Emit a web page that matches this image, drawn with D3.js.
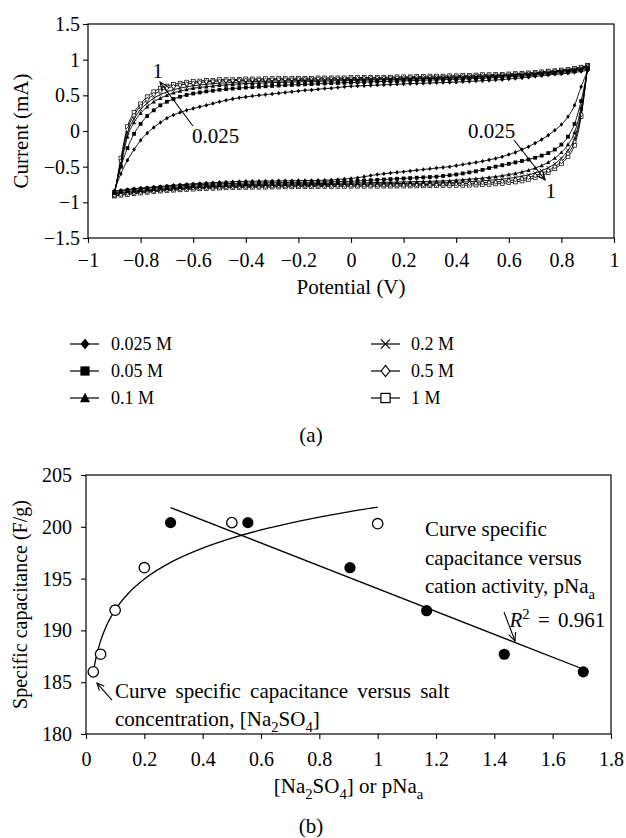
<!DOCTYPE html>
<html><head><meta charset="utf-8">
<script src="https://cdn.jsdelivr.net/npm/d3@7/dist/d3.min.js"></script>
<style>
html,body{margin:0;padding:0;background:#fff;}
svg{display:block;}
text{font-family:"Liberation Serif","Times New Roman",serif;fill:#000;}
</style></head><body>
<svg id="chart" width="626" height="838"></svg>
<script>
// ---------------- DATA: panel (a) cyclic voltammograms ----------------
const potential = [-0.9,-0.875,-0.85,-0.825,-0.8,-0.775,-0.75,-0.725,-0.7,-0.675,-0.65,-0.625,-0.6,-0.575,-0.55,-0.525,-0.5,-0.475,-0.45,-0.425,-0.4,-0.375,-0.35,-0.325,-0.3,-0.275,-0.25,-0.225,-0.2,-0.175,-0.15,-0.125,-0.1,-0.075,-0.05,-0.025,0,0.025,0.05,0.075,0.1,0.125,0.15,0.175,0.2,0.225,0.25,0.275,0.3,0.325,0.35,0.375,0.4,0.425,0.45,0.475,0.5,0.525,0.55,0.575,0.6,0.625,0.65,0.675,0.7,0.725,0.75,0.775,0.8,0.825,0.85,0.875,0.9];
const seriesLabels = ["0.025 M","0.05 M","0.1 M","0.2 M","0.5 M","1 M"];
// forward (anodic) sweep currents, mA, at each potential
const fwd_0025 = [-0.84,-0.60,-0.41,-0.26,-0.13,-0.03,0.05,0.12,0.18,0.225,0.26,0.29,0.315,0.34,0.36,0.385,0.41,0.43,0.45,0.465,0.478,
 0.49,0.50,0.51,0.52,0.53,0.54,0.55,0.56,0.57,0.575,0.585,0.595,0.60,0.61,0.62,0.627,
 0.632,0.636,0.64,0.644,0.648,0.652,0.656,0.66,0.664,0.667,0.67,0.673,0.676,0.679,0.682,0.685,0.69,0.695,0.70,0.705,0.71,0.715,0.72,
 0.73,0.735,0.745,0.755,0.765,0.775,0.785,0.795,0.80,0.81,0.82,0.835,0.85];
const fwd_005 = [-0.86,-0.50,-0.24,-0.04,0.10,0.21,0.29,0.36,0.41,0.45,0.48,0.505,0.525,0.54,0.555,0.565,0.578,0.587,0.595,0.602,0.609,
 0.615,0.62,0.627,0.632,0.637,0.642,0.646,0.65,0.654,0.658,0.662,0.666,0.67,0.673,0.676,0.68,
 0.683,0.686,0.689,0.692,0.695,0.698,0.70,0.703,0.706,0.709,0.712,0.715,0.717,0.72,0.722,0.725,0.728,0.732,0.736,0.74,0.745,0.75,0.755,
 0.76,0.765,0.77,0.775,0.785,0.795,0.80,0.81,0.82,0.83,0.84,0.855,0.87];
const fwd_01 = [-0.87,-0.48,-0.08,0.12,0.25,0.34,0.41,0.46,0.50,0.535,0.56,0.58,0.60,0.61,0.62,0.63,0.64,0.645,0.655,0.66,0.665,
 0.67,0.67,0.675,0.68,0.68,0.685,0.685,0.69,0.69,0.695,0.695,0.70,0.70,0.705,0.705,0.71,
 0.71,0.71,0.715,0.715,0.72,0.72,0.72,0.725,0.725,0.73,0.73,0.735,0.735,0.74,0.74,0.745,0.745,0.75,0.755,0.755,0.76,0.765,0.77,
 0.775,0.78,0.785,0.79,0.80,0.81,0.815,0.825,0.835,0.845,0.855,0.87,0.89];
const fwd_02 = [-0.88,-0.45,-0.03,0.17,0.30,0.39,0.46,0.51,0.55,0.58,0.60,0.62,0.635,0.645,0.655,0.665,0.67,0.675,0.68,0.685,0.69,
 0.69,0.695,0.695,0.70,0.70,0.70,0.705,0.705,0.71,0.71,0.71,0.715,0.715,0.715,0.72,0.72,
 0.72,0.725,0.725,0.725,0.73,0.73,0.73,0.735,0.735,0.735,0.74,0.74,0.745,0.745,0.75,0.75,0.755,0.755,0.76,0.765,0.765,0.77,0.775,
 0.78,0.785,0.79,0.80,0.805,0.815,0.82,0.83,0.84,0.85,0.86,0.88,0.90];
const fwd_05 = [-0.90,-0.42,0.02,0.22,0.35,0.44,0.51,0.56,0.60,0.625,0.645,0.66,0.67,0.68,0.69,0.695,0.70,0.705,0.705,0.71,0.71,
 0.715,0.715,0.715,0.72,0.72,0.72,0.72,0.725,0.725,0.725,0.73,0.73,0.73,0.73,0.735,0.735,
 0.735,0.74,0.74,0.74,0.74,0.745,0.745,0.745,0.75,0.75,0.75,0.755,0.755,0.755,0.76,0.76,0.765,0.765,0.77,0.775,0.775,0.78,0.785,
 0.79,0.795,0.80,0.805,0.815,0.82,0.83,0.84,0.85,0.86,0.87,0.89,0.91];
const fwd_1 = [-0.91,-0.38,0.06,0.26,0.38,0.48,0.55,0.60,0.63,0.655,0.67,0.685,0.695,0.70,0.71,0.71,0.72,0.72,0.72,0.725,0.73,
 0.73,0.73,0.735,0.735,0.74,0.74,0.74,0.74,0.74,0.74,0.745,0.745,0.745,0.745,0.745,0.75,
 0.75,0.75,0.75,0.75,0.755,0.755,0.76,0.76,0.76,0.765,0.765,0.77,0.77,0.77,0.775,0.775,0.78,0.78,0.785,0.79,0.79,0.795,0.795,
 0.80,0.805,0.81,0.815,0.82,0.83,0.84,0.845,0.855,0.865,0.88,0.895,0.92];
// reverse (cathodic) sweep currents, mA, listed at the same potentials
const rev_0025 = [-0.84,-0.83,-0.82,-0.81,-0.80,-0.792,-0.785,-0.777,-0.77,-0.762,-0.755,-0.747,-0.74,-0.735,-0.73,-0.725,-0.72,-0.716,-0.712,-0.708,-0.705,
 -0.704,-0.703,-0.702,-0.70,-0.699,-0.698,-0.697,-0.695,-0.694,-0.693,-0.692,-0.69,-0.687,-0.68,-0.673,-0.665,
 -0.655,-0.64,-0.625,-0.61,-0.60,-0.59,-0.58,-0.57,-0.56,-0.55,-0.54,-0.53,-0.52,-0.51,-0.50,-0.485,-0.47,-0.455,-0.44,-0.425,-0.405,-0.385,-0.36,
 -0.33,-0.30,-0.26,-0.22,-0.17,-0.12,-0.06,0.01,0.09,0.20,0.36,0.62,0.85];
const rev_005 = [-0.86,-0.845,-0.83,-0.82,-0.81,-0.802,-0.795,-0.787,-0.78,-0.773,-0.767,-0.761,-0.755,-0.751,-0.747,-0.743,-0.74,-0.737,-0.735,-0.732,-0.73,
 -0.729,-0.728,-0.727,-0.725,-0.724,-0.723,-0.721,-0.72,-0.719,-0.718,-0.716,-0.715,-0.712,-0.71,-0.707,-0.705,
 -0.70,-0.695,-0.69,-0.685,-0.68,-0.675,-0.67,-0.665,-0.66,-0.655,-0.65,-0.645,-0.64,-0.63,-0.62,-0.61,-0.595,-0.58,-0.565,-0.545,-0.52,-0.50,-0.48,
 -0.46,-0.44,-0.42,-0.40,-0.375,-0.345,-0.31,-0.26,-0.19,-0.08,0.10,0.42,0.87];
const rev_01 = [-0.87,-0.86,-0.85,-0.84,-0.83,-0.822,-0.815,-0.807,-0.80,-0.793,-0.787,-0.781,-0.775,-0.771,-0.767,-0.763,-0.76,-0.757,-0.755,-0.752,-0.75,
 -0.749,-0.748,-0.747,-0.745,-0.744,-0.743,-0.741,-0.74,-0.739,-0.738,-0.736,-0.735,-0.734,-0.733,-0.731,-0.73,
 -0.728,-0.726,-0.724,-0.722,-0.72,-0.719,-0.717,-0.715,-0.712,-0.71,-0.707,-0.705,-0.702,-0.70,-0.695,-0.69,-0.683,-0.675,-0.668,-0.66,-0.65,-0.64,-0.625,
 -0.61,-0.595,-0.575,-0.55,-0.52,-0.485,-0.44,-0.38,-0.30,-0.19,-0.02,0.33,0.89];
const rev_02 = [-0.88,-0.87,-0.86,-0.852,-0.845,-0.837,-0.83,-0.822,-0.815,-0.808,-0.802,-0.796,-0.79,-0.786,-0.782,-0.778,-0.775,-0.772,-0.77,-0.767,-0.765,
 -0.764,-0.762,-0.761,-0.76,-0.759,-0.758,-0.756,-0.755,-0.754,-0.753,-0.752,-0.75,-0.749,-0.748,-0.746,-0.745,
 -0.744,-0.743,-0.742,-0.741,-0.74,-0.739,-0.737,-0.735,-0.734,-0.733,-0.732,-0.73,-0.728,-0.725,-0.722,-0.72,-0.715,-0.71,-0.705,-0.70,-0.69,-0.685,-0.675,
 -0.665,-0.65,-0.635,-0.615,-0.59,-0.555,-0.515,-0.46,-0.38,-0.27,-0.10,0.27,0.90];
const rev_05 = [-0.90,-0.89,-0.875,-0.865,-0.855,-0.847,-0.84,-0.832,-0.825,-0.818,-0.812,-0.806,-0.80,-0.796,-0.793,-0.79,-0.787,-0.784,-0.782,-0.78,-0.777,
 -0.776,-0.775,-0.774,-0.772,-0.771,-0.77,-0.768,-0.767,-0.766,-0.765,-0.764,-0.763,-0.762,-0.761,-0.76,-0.76,
 -0.76,-0.759,-0.759,-0.758,-0.758,-0.757,-0.756,-0.755,-0.754,-0.753,-0.752,-0.75,-0.748,-0.745,-0.742,-0.74,-0.737,-0.735,-0.73,-0.725,-0.72,-0.715,-0.705,
 -0.695,-0.685,-0.67,-0.65,-0.625,-0.595,-0.555,-0.50,-0.43,-0.32,-0.15,0.23,0.91];
const rev_1 = [-0.91,-0.90,-0.89,-0.88,-0.87,-0.86,-0.85,-0.842,-0.835,-0.83,-0.825,-0.82,-0.815,-0.81,-0.806,-0.803,-0.80,-0.797,-0.795,-0.792,-0.79,
 -0.789,-0.788,-0.787,-0.786,-0.785,-0.784,-0.783,-0.782,-0.781,-0.78,-0.779,-0.778,-0.777,-0.776,-0.776,-0.775,
 -0.775,-0.775,-0.774,-0.774,-0.773,-0.773,-0.772,-0.772,-0.771,-0.77,-0.769,-0.768,-0.767,-0.766,-0.765,-0.763,-0.762,-0.76,-0.757,-0.752,-0.748,-0.742,-0.735,
 -0.725,-0.715,-0.70,-0.68,-0.655,-0.625,-0.585,-0.53,-0.46,-0.36,-0.20,0.20,0.92];
const xTicksA = [-1,-0.8,-0.6,-0.4,-0.2,0,0.2,0.4,0.6,0.8,1];
const yTicksA = [-1.5,-1,-0.5,0,0.5,1,1.5];

// ---------------- DATA: panel (b) specific capacitance ----------------
const concentration = [0.025,0.05,0.1,0.2,0.5,1.0];
const capConc = [186.0,187.7,191.95,196.05,200.4,200.3];
const pNa = [0.29,0.555,0.905,1.168,1.434,1.705];
const capPNa = [200.4,200.4,196.05,191.9,187.7,186.0];
const logFitX = [0.025,0.035,0.05,0.07,0.1,0.15,0.2,0.3,0.4,0.5,0.6,0.7,0.8,0.9,1.0];
const logFitY = [186.0,187.45,188.99,190.44,191.98,193.72,194.96,196.71,197.95,198.91,199.70,200.36,200.94,201.45,201.9];
const linFitX = [0.29,1.71];
const linFitY = [201.86,186.2];
const xTicksB = [0,0.2,0.4,0.6,0.8,1,1.2,1.4,1.6,1.8];
const yTicksB = [180,185,190,195,200,205];

// ---------------- DRAWING ----------------
const svg = d3.select("#chart");
const fmt = d => String(d).replace("-", "\u2212");
const FS = 20, FT = 21;

function drawMarker(g, type, x, y, s, sw) {
  let el;
  if (type === "diamondFilled" || type === "diamondOpen") {
    el = g.append("path").attr("d", `M${x},${y-s*1.2}L${x+s*0.95},${y}L${x},${y+s*1.2}L${x-s*0.95},${y}Z`);
  } else if (type === "squareFilled" || type === "squareOpen") {
    el = g.append("rect").attr("x", x-s).attr("y", y-s).attr("width", 2*s).attr("height", 2*s);
  } else if (type === "triangleFilled") {
    el = g.append("path").attr("d", `M${x},${y-s*1.15}L${x+s*1.1},${y+s*0.9}L${x-s*1.1},${y+s*0.9}Z`);
  } else if (type === "cross") {
    g.append("path").attr("d", `M${x-s},${y-s}L${x+s},${y+s}M${x-s},${y+s}L${x+s},${y-s}`)
      .attr("fill", "none").attr("stroke", "#000").attr("stroke-width", sw);
    return;
  }
  if (type.endsWith("Open")) el.attr("fill", "#fff").attr("stroke", "#000").attr("stroke-width", sw);
  else el.attr("fill", "#000");
}
function arrow(g, x1, y1, x2, y2, head) {
  g.append("line").attr("x1", x1).attr("y1", y1).attr("x2", x2).attr("y2", y2)
    .attr("stroke", "#000").attr("stroke-width", 1.1);
  const a = Math.atan2(y2-y1, x2-x1), sp = 0.42;
  g.append("path").attr("d",
    `M${x2-head*Math.cos(a-sp)},${y2-head*Math.sin(a-sp)}L${x2},${y2}L${x2-head*Math.cos(a+sp)},${y2-head*Math.sin(a+sp)}`)
    .attr("fill", "none").attr("stroke", "#000").attr("stroke-width", 1.1);
}
function styleAxis(g) {
  g.select(".domain").remove();
  g.selectAll(".tick line").attr("stroke", "#000").attr("stroke-width", 1.1);
  g.selectAll(".tick text").attr("font-size", FS).attr("fill", "#000")
    .attr("font-family", '"Liberation Serif","Times New Roman",serif');
}
function richText(g, x, y, parts, size, anchor) {
  const t = g.append("text").attr("x", x).attr("y", y).attr("font-size", size)
    .attr("text-anchor", anchor || "start");
  let shift = 0;
  parts.forEach(p => {
    const ts = t.append("tspan").text(p.t);
    let target = 0;
    if (p.sub) target = size*0.28;
    if (p.sup) target = -size*0.38;
    ts.attr("dy", target - shift);
    shift = target;
    if (p.sub || p.sup) ts.attr("font-size", size*0.7);
    if (p.italic) ts.attr("font-style", "italic");
    if (p.dx) ts.attr("dx", p.dx);
  });
  return t;
}

// ===== Panel (a) =====
const xA = d3.scaleLinear().domain([-1, 1]).range([88, 614]);
const yA = d3.scaleLinear().domain([-1.5, 1.5]).range([238, 24]);
const gA = svg.append("g");

const gxA = gA.append("g").attr("transform", `translate(0,${yA(-1.5)})`)
  .call(d3.axisBottom(xA).tickValues(xTicksA).tickFormat(fmt).tickSize(5).tickPadding(10).tickSizeOuter(0));
styleAxis(gxA);
const gyA = gA.append("g").attr("transform", `translate(${xA(-1)},0)`)
  .call(d3.axisLeft(yA).tickValues(yTicksA).tickFormat(fmt).tickSize(5).tickPadding(3).tickSizeOuter(0));
styleAxis(gyA);
gA.append("rect").attr("x", xA(-1)).attr("y", yA(1.5)).attr("width", xA(1)-xA(-1)).attr("height", yA(-1.5)-yA(1.5))
  .attr("fill", "none").attr("stroke", "#000").attr("stroke-width", 1.2);

const fwdAll = [fwd_0025, fwd_005, fwd_01, fwd_02, fwd_05, fwd_1];
const revAll = [rev_0025, rev_005, rev_01, rev_02, rev_05, rev_1];
const markerTypes = ["diamondFilled","squareFilled","triangleFilled","cross","diamondOpen","squareOpen"];
const lineA = d3.line().x(d => xA(d[0])).y(d => yA(d[1])).curve(d3.curveMonotoneX);
const drawOrder = [5, 4, 3, 2, 1, 0];
const gCurves = gA.append("g");
drawOrder.forEach(i => {
  const up = potential.map((p, k) => [p, fwdAll[i][k]]);
  const down = potential.map((p, k) => [p, revAll[i][k]]);
  const gs = gCurves.append("g");
  gs.append("path").attr("d", lineA(up)).attr("fill", "none").attr("stroke", "#000").attr("stroke-width", 0.9);
  gs.append("path").attr("d", lineA(down)).attr("fill", "none").attr("stroke", "#000").attr("stroke-width", 0.9);
  up.concat(down).forEach(d => drawMarker(gs, markerTypes[i], xA(d[0]), yA(d[1]), 1.9, 0.7));
});

// annotations (a)
gA.append("text").attr("x", xA(-0.755)).attr("y", yA(0.745)).attr("font-size", FT).text("1");
arrow(gA, xA(-0.601), yA(0.07), xA(-0.726), yA(0.687), 9);
gA.append("text").attr("x", xA(-0.605)).attr("y", yA(-0.168)).attr("font-size", FT).text("0.025");
gA.append("text").attr("x", xA(0.445)).attr("y", yA(-0.098)).attr("font-size", FT).text("0.025");
arrow(gA, xA(0.62), yA(-0.126), xA(0.738), yA(-0.687), 9);
gA.append("text").attr("x", xA(0.74)).attr("y", yA(-0.94)).attr("font-size", FT).text("1");

gA.append("text").attr("x", (xA(-1)+xA(1))/2).attr("y", 294).attr("text-anchor", "middle")
  .attr("font-size", FT).text("Potential (V)");
gA.append("text").attr("transform", `translate(28,${(yA(-1.5)+yA(1.5))/2}) rotate(-90)`)
  .attr("text-anchor", "middle").attr("font-size", FT).text("Current (mA)");

// legend (a)
const legCols = [{lx1: 70, lx2: 99, mx: 85, tx: 111}, {lx1: 371, lx2: 400, mx: 385.5, tx: 411}];
const legRows = [344, 371, 398];
seriesLabels.forEach((lab, i) => {
  const c = legCols[Math.floor(i/3)], ry = legRows[i%3];
  gA.append("line").attr("x1", c.lx1).attr("x2", c.lx2).attr("y1", ry).attr("y2", ry)
    .attr("stroke", "#000").attr("stroke-width", 1.2);
  drawMarker(gA, markerTypes[i], c.mx, ry, 4.6, 1.2);
  gA.append("text").attr("x", c.tx).attr("y", ry+6).attr("font-size", 18).text(lab);
});
gA.append("text").attr("x", 311).attr("y", 442).attr("text-anchor", "middle").attr("font-size", FT).text("(a)");

// ===== Panel (b) =====
const xB = d3.scaleLinear().domain([0, 1.8]).range([86, 611]);
const yB = d3.scaleLinear().domain([180, 205]).range([734, 475]);
const gB = svg.append("g");
const gxB = gB.append("g").attr("transform", `translate(0,${yB(180)})`)
  .call(d3.axisBottom(xB).tickValues(xTicksB).tickFormat(fmt).tickSize(5).tickPadding(13).tickSizeOuter(0));
styleAxis(gxB);
const gyB = gB.append("g").attr("transform", `translate(${xB(0)},0)`)
  .call(d3.axisLeft(yB).tickValues(yTicksB).tickFormat(fmt).tickSize(5).tickPadding(9).tickSizeOuter(0));
styleAxis(gyB);
gB.append("rect").attr("x", xB(0)).attr("y", yB(205)).attr("width", xB(1.8)-xB(0)).attr("height", yB(180)-yB(205))
  .attr("fill", "none").attr("stroke", "#000").attr("stroke-width", 1.2);

const lineB = d3.line().x(d => xB(d[0])).y(d => yB(d[1]));
gB.append("path").attr("d", lineB.curve(d3.curveMonotoneX)(logFitX.map((x, i) => [x, logFitY[i]])))
  .attr("fill", "none").attr("stroke", "#000").attr("stroke-width", 1.3);
gB.append("path").attr("d", d3.line().x(d => xB(d[0])).y(d => yB(d[1]))(linFitX.map((x, i) => [x, linFitY[i]])))
  .attr("fill", "none").attr("stroke", "#000").attr("stroke-width", 1.3);
gB.selectAll("circle.open").data(concentration).enter().append("circle")
  .attr("cx", d => xB(d)).attr("cy", (d, i) => yB(capConc[i])).attr("r", 5.2)
  .attr("fill", "#fff").attr("stroke", "#000").attr("stroke-width", 1.3);
gB.selectAll("circle.fill").data(pNa).enter().append("circle")
  .attr("cx", d => xB(d)).attr("cy", (d, i) => yB(capPNa[i])).attr("r", 5.6).attr("fill", "#000");

// annotations (b)
arrow(gB, xB(0.089), yB(183.28), xB(0.0377), yB(184.92), 8);
gB.append("text").attr("x", xB(0.0994)).attr("y", yB(183.47)).attr("font-size", FT).attr("word-spacing", 4)
  .text("Curve specific capacitance versus salt");
richText(gB, xB(0.0994), yB(180.77), [{t: "concentration, [Na"}, {t: "2", sub: true}, {t: "SO"}, {t: "4", sub: true}, {t: "]"}], FT);
gB.append("text").attr("x", xB(1.162)).attr("y", yB(199.11)).attr("font-size", FT).text("Curve specific");
gB.append("text").attr("x", xB(1.162)).attr("y", yB(196.31)).attr("font-size", FT).text("capacitance versus");
richText(gB, xB(1.162), yB(193.61), [{t: "cation activity, pNa"}, {t: "a", sub: true}], FT);
richText(gB, xB(1.452), yB(190.33), [{t: "R", italic: true}, {t: "2", sup: true}, {t: " = ", dx: 3}, {t: "0.961", dx: 3}], FT);
arrow(gB, xB(1.433), yB(191.78), xB(1.471), yB(188.98), 9);

richText(gB, (xB(0)+xB(1.8))/2, 793, [{t: "[Na"}, {t: "2", sub: true}, {t: "SO"}, {t: "4", sub: true}, {t: "] or pNa"}, {t: "a", sub: true}], FT, "middle");
gB.append("text").attr("transform", `translate(27,${(yB(180)+yB(205))/2}) rotate(-90)`)
  .attr("text-anchor", "middle").attr("font-size", FS).text("Specific capacitance (F/g)");
gB.append("text").attr("x", 311).attr("y", 833).attr("text-anchor", "middle").attr("font-size", FT).text("(b)");
</script></body></html>
